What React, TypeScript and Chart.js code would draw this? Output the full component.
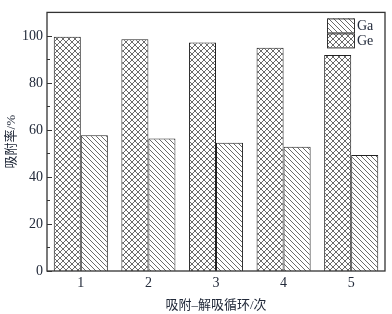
import React, { useEffect, useRef } from 'react';
import { Chart, registerables } from 'chart.js';

Chart.register(...registerables);

const categories = ['1', '2', '3', '4', '5'];
const geValues = [99.6, 98.6, 97.2, 95.0, 91.9];
const gaValues = [57.7, 56.4, 54.6, 52.8, 49.3];
const yMajorTicks = [0, 20, 40, 60, 80, 100];
const yMinorTicks = [10, 30, 50, 70, 90];
const legendItems = ['Ga', 'Ge'];

const FONT = "'Liberation Serif', 'Times New Roman', 'Noto Sans CJK SC', serif";

function makePattern(kind: 'cross' | 'diag'): CanvasPattern | string {
  const s = kind === 'cross' ? 6 : 5;
  const c = document.createElement('canvas');
  c.width = s;
  c.height = s;
  const ctx = c.getContext('2d');
  if (!ctx) return '#fff';
  ctx.fillStyle = '#fff';
  ctx.fillRect(0, 0, s, s);
  ctx.strokeStyle = '#5a5a5a';
  ctx.lineWidth = 0.9;
  ctx.beginPath();
  for (let k = -1; k <= 1; k++) {
    ctx.moveTo(k * s, 0);
    ctx.lineTo(k * s + s, s);
    if (kind === 'cross') {
      ctx.moveTo(k * s + s, 0);
      ctx.lineTo(k * s, s);
    }
  }
  ctx.stroke();
  const p = ctx.createPattern(c, 'repeat');
  return p || '#fff';
}

export default function App() {
  const ref = useRef<HTMLCanvasElement | null>(null);
  useEffect(() => {
    if (!ref.current) return;
    const cross = makePattern('cross');
    const diag = makePattern('diag');

    const framePlugin = {
      id: 'framePlugin',
      afterDatasetsDraw(chart: any) {
        const { ctx, chartArea } = chart;
        const y = chart.scales.y;
        ctx.save();
        ctx.strokeStyle = '#333';
        ctx.lineWidth = 1.3;
        ctx.strokeRect(chartArea.left, chartArea.top, chartArea.right - chartArea.left, chartArea.bottom - chartArea.top);
        ctx.lineWidth = 1;
        ctx.beginPath();
        yMajorTicks.forEach((v) => {
          const py = Math.round(y.getPixelForValue(v)) + 0.5;
          ctx.moveTo(chartArea.left, py);
          ctx.lineTo(chartArea.left + 5, py);
        });
        yMinorTicks.forEach((v) => {
          const py = Math.round(y.getPixelForValue(v)) + 0.5;
          ctx.moveTo(chartArea.left, py);
          ctx.lineTo(chartArea.left + 3, py);
        });
        ctx.stroke();

        // legend
        const bx = chartArea.right - 58;
        const by = chartArea.top + 6;
        const bw = 27;
        const bh = 14;
        const fills = [diag, cross];
        legendItems.forEach((label, i) => {
          const top = by + i * (bh + 1);
          ctx.fillStyle = fills[i] as any;
          ctx.fillRect(bx, top, bw, bh);
          ctx.strokeStyle = '#333';
          ctx.lineWidth = 1;
          ctx.strokeRect(bx + 0.5, top + 0.5, bw, bh);
          ctx.fillStyle = '#222a3a';
          ctx.font = `14px ${FONT}`;
          ctx.textBaseline = 'middle';
          ctx.textAlign = 'left';
          ctx.fillText(label, bx + bw + 3, top + bh / 2 + 1);
        });
        ctx.restore();
      },
    };

    const chart = new Chart(ref.current, {
      type: 'bar',
      data: {
        labels: categories,
        datasets: [
          {
            label: 'Ge',
            data: geValues,
            backgroundColor: cross as any,
            borderColor: '#222',
            borderWidth: 1,
            categoryPercentage: 0.8,
            barPercentage: 1.0,
          },
          {
            label: 'Ga',
            data: gaValues,
            backgroundColor: diag as any,
            borderColor: '#222',
            borderWidth: 1,
            categoryPercentage: 0.8,
            barPercentage: 1.0,
          },
        ],
      },
      options: {
        responsive: false,
        animation: false,
        layout: { padding: { top: 9, right: 7, left: 0, bottom: 0 } },
        plugins: {
          legend: { display: false },
          tooltip: { enabled: false },
        },
        scales: {
          x: {
            grid: { display: false, drawTicks: false },
            border: { display: false },
            ticks: { padding: 4, color: '#222a3a', font: { family: FONT, size: 14 } },
            title: {
              display: true,
              text: '吸附–解吸循环/次',
              color: '#222a3a',
              font: { family: FONT, size: 13 },
              padding: { top: 0, bottom: 1 },
            },
            afterFit: (scale: any) => {
              scale.height = 43;
            },
          },
          y: {
            min: 0,
            max: 110,
            grid: { display: false, drawTicks: false },
            border: { display: false },
            ticks: { padding: 4, color: '#222a3a', font: { family: FONT, size: 14 } },
            afterBuildTicks: (scale: any) => {
              scale.ticks = yMajorTicks.map((v) => ({ value: v }));
            },
            title: {
              display: true,
              text: '吸附率/%',
              color: '#222a3a',
              font: { family: FONT, size: 13 },
              padding: { top: 4, bottom: 0 },
            },
            afterFit: (scale: any) => {
              scale.width = 47;
            },
          },
        },
      },
      plugins: [framePlugin],
    });
    return () => chart.destroy();
  }, []);

  return (
    <div style={{ position: 'fixed', left: 0, top: 0, width: 392, height: 314, background: '#fff' }}>
      <canvas ref={ref} width={392} height={314} style={{ width: 392, height: 314, display: 'block' }} />
    </div>
  );
}
